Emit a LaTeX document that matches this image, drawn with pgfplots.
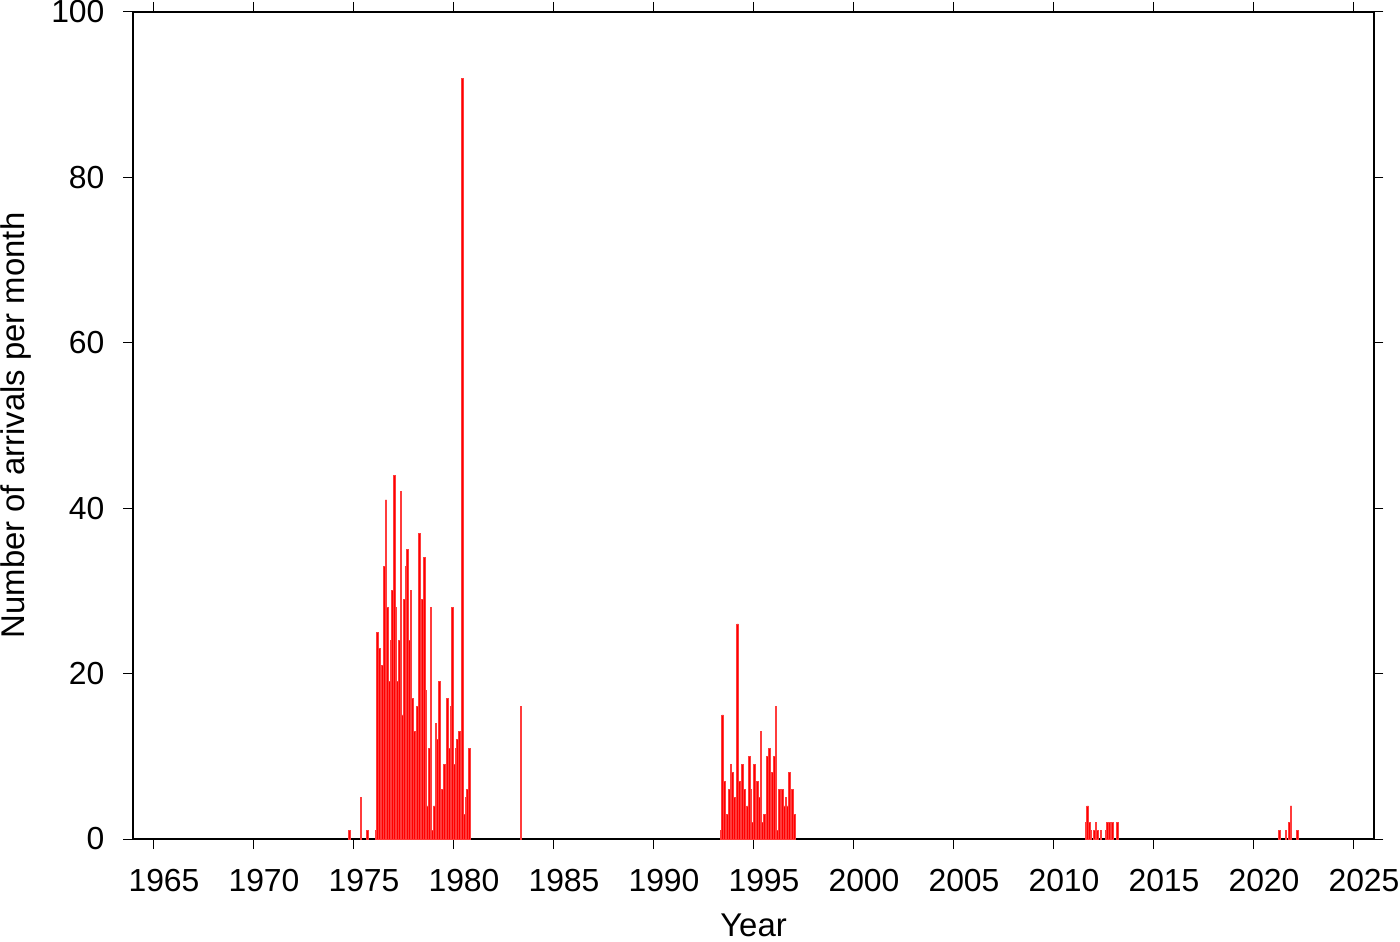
\documentclass[border=0pt]{standalone}
\usepackage{pgfplots}
\pgfplotsset{compat=1.18}
\usepackage{pgfplotstable}
\usepackage{fontspec}
\setmainfont{Liberation Sans}

\pgfplotstableread{
year month value
1974 10 1
1975 5 5
1975 9 1
1976 2 1
1976 3 25
1976 4 23
1976 5 18
1976 6 21
1976 7 33
1976 8 41
1976 9 28
1976 10 19
1976 11 24
1976 12 30
1977 1 44
1977 2 28
1977 3 19
1977 4 24
1977 5 42
1977 6 15
1977 7 29
1977 8 33
1977 9 35
1977 10 24
1977 11 30
1977 12 17
1978 1 13
1978 2 5
1978 3 16
1978 4 37
1978 5 28
1978 6 29
1978 7 34
1978 8 18
1978 9 4
1978 10 11
1978 11 28
1978 12 1
1979 1 4
1979 2 14
1979 3 12
1979 4 19
1979 5 5
1979 6 6
1979 7 9
1979 8 8
1979 9 17
1979 10 11
1979 11 16
1979 12 28
1980 1 9
1980 2 11
1980 3 12
1980 4 13
1980 5 10
1980 6 92
1980 7 3
1980 8 5
1980 9 6
1980 10 11
1983 5 16
1993 5 1
1993 6 15
1993 7 7
1993 8 2
1993 9 3
1993 10 6
1993 11 9
1993 12 8
1994 1 5
1994 2 5
1994 3 26
1994 4 7
1994 5 5
1994 6 9
1994 7 6
1994 8 2
1994 9 4
1994 10 10
1994 11 6
1994 12 2
1995 1 9
1995 2 4
1995 3 7
1995 4 5
1995 5 13
1995 6 2
1995 7 3
1995 8 2
1995 9 10
1995 10 11
1995 11 2
1995 12 8
1996 1 10
1996 2 16
1996 3 1
1996 4 6
1996 5 3
1996 6 6
1996 7 4
1996 8 5
1996 9 4
1996 10 8
1996 11 4
1996 12 6
1997 1 3
2011 8 2
2011 9 4
2011 10 2
2011 11 1
2012 1 1
2012 2 2
2012 3 1
2012 5 1
2012 8 1
2012 9 2
2012 10 2
2012 12 2
2013 3 2
2021 4 1
2021 8 1
2021 10 2
2021 11 4
2022 3 1
}\arrivals

\begin{document}
\begin{tikzpicture}
\useasboundingbox (-66.75bp,-51.5bp) rectangle (633.25bp,419.5bp);
\begin{axis}[
  at={(0,0)}, anchor=south west,
  scale only axis, width=620bp, height=413.5bp,
  xmin=1964, xmax=2026, ymin=0, ymax=100,
  xtick={1965,1970,...,2025}, ytick={0,20,...,100},
  tick align=outside,
  major tick length=5bp,
  axis line style={line width=1bp},
  every tick/.style={black, line width=0.5bp},
  /pgf/number format/1000 sep={},
  /pgf/number format/assume math mode=true,
  tick label style={font=\fontsize{16}{19}\selectfont},
  xticklabel style={yshift=-6.5bp, xshift=5.25bp},
  yticklabel style={xshift=-6bp},
  label style={font=\fontsize{16.5}{20}\selectfont},
  xlabel={Year}, ylabel={Number of arrivals per month},
  xlabel style={at={(axis description cs:0.5,-0.1180)}, anchor=base},
  ylabel style={at={(axis description cs:-0.0883,0.5)}, anchor=base},
  ybar, bar width=0.0833333,
]
\addplot[fill=red, draw={rgb,255:red,255;green,60;blue,60}, line width=0.4bp]
  table[x expr=\thisrow{year}+(\thisrow{month}-0.5)/12, y=value] {\arrivals};
\end{axis}
\end{tikzpicture}
\end{document}
